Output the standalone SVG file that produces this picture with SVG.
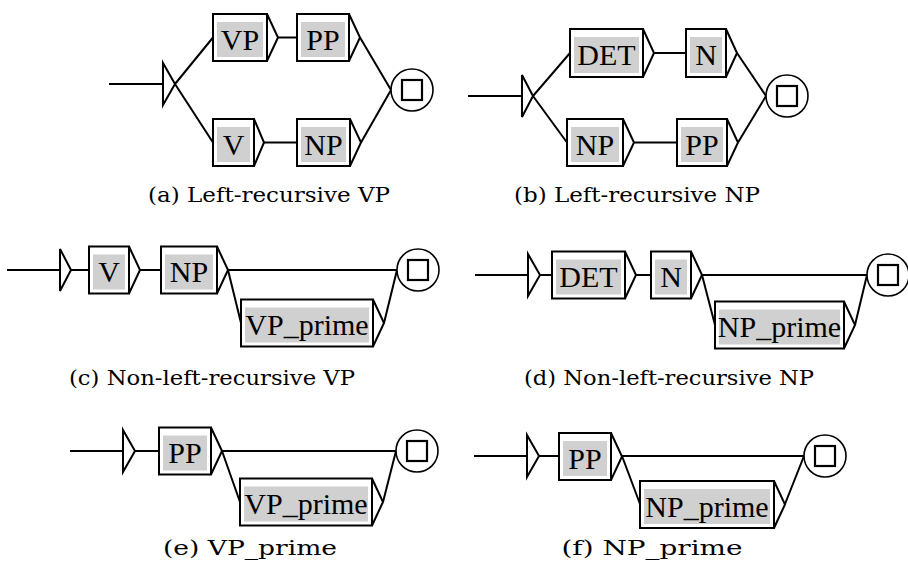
<svg xmlns="http://www.w3.org/2000/svg" width="908" height="573" viewBox="0 0 908 573">
<style>
.bx{fill:#fff;stroke:#000;stroke-width:2}
.gr{fill:#d0d0d0;stroke:none}
.lb{font-family:"Liberation Serif","Times New Roman",serif;font-size:30px;text-anchor:middle;fill:#000}
.tr{fill:none;stroke:#000;stroke-width:2;stroke-linejoin:miter}
.ln{fill:none;stroke:#000;stroke-width:2}
.fc{fill:#fff;stroke:#000;stroke-width:1.6}
.fs{fill:#fff;stroke:#000;stroke-width:2.2}
.cap{font-family:"DejaVu Serif","Liberation Serif",serif;font-size:20px;text-anchor:middle;fill:#000}
</style>
<rect width="908" height="573" fill="#fff"/>

<!-- (a) -->
<g id="a_connectors">
<path class="ln" d="M109 84H163M175 84L213 37.5M175 84L213 142.5M278 37.5H297M264 142.5H297M360 37.5L391 90M361 142.5L391 90"/>
</g>
<g id="a_init"><polygon class="tr" points="163,63 175,84 163,105"/></g>
<g id="a_VP"><rect class="bx" x="213" y="14" width="54" height="47"/><rect class="gr" x="217" y="22" width="46" height="35"/><text class="lb" x="240" y="49.5">VP</text><polyline class="tr" points="267,14 278,37.5 267,61"/></g>
<g id="a_PP"><rect class="bx" x="297" y="14" width="52" height="47"/><rect class="gr" x="301" y="22" width="44" height="35"/><text class="lb" x="323" y="49.5">PP</text><polyline class="tr" points="349,14 360,37.5 349,61"/></g>
<g id="a_V"><rect class="bx" x="213" y="119" width="41" height="47"/><rect class="gr" x="217" y="127" width="33" height="35"/><text class="lb" x="233.5" y="154.5">V</text><polyline class="tr" points="254,119 264,142.5 254,166"/></g>
<g id="a_NP"><rect class="bx" x="297" y="119" width="53" height="47"/><rect class="gr" x="301" y="127" width="45" height="35"/><text class="lb" x="323.5" y="154.5">NP</text><polyline class="tr" points="350,119 361,142.5 350,166"/></g>
<g id="a_final"><circle class="fc" cx="412" cy="90" r="21"/><rect class="fs" x="402" y="80" width="20" height="20"/></g>
<text class="cap" x="269" y="202" textLength="242" lengthAdjust="spacingAndGlyphs">(a)  Left-recursive VP</text>

<!-- (b) -->
<g id="b_connectors">
<path class="ln" d="M468 96H522M533 96L570 53M533 96L567 142.5M654 53H686M634 142.5H677M737 53L766 96M738 142.5L766 96"/>
</g>
<g id="b_init"><polygon class="tr" points="522,75 533,96 522,117"/></g>
<g id="b_DET"><rect class="bx" x="570" y="29" width="73" height="48"/><rect class="gr" x="574" y="37" width="65" height="36"/><text class="lb" x="606.5" y="65">DET</text><polyline class="tr" points="643,29 654,53 643,77"/></g>
<g id="b_N"><rect class="bx" x="686" y="29" width="40" height="48"/><rect class="gr" x="690" y="37" width="32" height="36"/><text class="lb" x="706" y="65">N</text><polyline class="tr" points="726,29 737,53 726,77"/></g>
<g id="b_NP"><rect class="bx" x="567" y="119" width="56" height="47"/><rect class="gr" x="571" y="127" width="48" height="35"/><text class="lb" x="595" y="154.5">NP</text><polyline class="tr" points="623,119 634,142.5 623,166"/></g>
<g id="b_PP"><rect class="bx" x="677" y="119" width="50" height="47"/><rect class="gr" x="681" y="127" width="42" height="35"/><text class="lb" x="702" y="154.5">PP</text><polyline class="tr" points="727,119 738,142.5 727,166"/></g>
<g id="b_final"><circle class="fc" cx="787" cy="96" r="21"/><rect class="fs" x="777" y="86" width="20" height="20"/></g>
<text class="cap" x="637" y="202" textLength="246" lengthAdjust="spacingAndGlyphs">(b)  Left-recursive NP</text>

<!-- (c) -->
<g id="c_connectors">
<path class="ln" d="M7 270H60M71 270H89M140 270H161M228 270H397M228 270L241 323M384 323L397 270"/>
</g>
<g id="c_init"><polygon class="tr" points="60,249 71,270 60,291"/></g>
<g id="c_V"><rect class="bx" x="89" y="246.5" width="40" height="47"/><rect class="gr" x="93" y="254.5" width="32" height="35"/><text class="lb" x="109" y="282">V</text><polyline class="tr" points="129,246.5 140,270 129,293.5"/></g>
<g id="c_NP"><rect class="bx" x="161" y="246.5" width="56" height="47"/><rect class="gr" x="165" y="254.5" width="48" height="35"/><text class="lb" x="189" y="282">NP</text><polyline class="tr" points="217,246.5 228,270 217,293.5"/></g>
<g id="c_VPp"><rect class="bx" x="241" y="299.5" width="132" height="47"/><rect class="gr" x="245" y="307.5" width="124" height="35"/><text class="lb" x="307" y="335">VP_prime</text><polyline class="tr" points="373,299.5 384,323 373,346.5"/></g>
<g id="c_final"><circle class="fc" cx="418" cy="270" r="21"/><rect class="fs" x="408" y="260" width="20" height="20"/></g>
<text class="cap" x="212" y="385" textLength="286" lengthAdjust="spacingAndGlyphs">(c)  Non-left-recursive VP</text>

<!-- (d) -->
<g id="d_connectors">
<path class="ln" d="M475 275H528M540 275H552M636 275H651M702 275H867M702 275L715 325M855 325L867 275"/>
</g>
<g id="d_init"><polygon class="tr" points="528,254 540,275 528,296"/></g>
<g id="d_DET"><rect class="bx" x="552" y="251.5" width="73" height="47"/><rect class="gr" x="556" y="259.5" width="65" height="35"/><text class="lb" x="588.5" y="287">DET</text><polyline class="tr" points="625,251.5 636,275 625,298.5"/></g>
<g id="d_N"><rect class="bx" x="651" y="251.5" width="40" height="47"/><rect class="gr" x="655" y="259.5" width="32" height="35"/><text class="lb" x="671" y="287">N</text><polyline class="tr" points="691,251.5 702,275 691,298.5"/></g>
<g id="d_NPp"><rect class="bx" x="715" y="301.5" width="129" height="47"/><rect class="gr" x="719" y="309.5" width="121" height="35"/><text class="lb" x="779.5" y="337">NP_prime</text><polyline class="tr" points="844,301.5 855,325 844,348.5"/></g>
<g id="d_final"><circle class="fc" cx="888" cy="275" r="21"/><rect class="fs" x="878" y="265" width="20" height="20"/></g>
<text class="cap" x="669" y="385" textLength="290" lengthAdjust="spacingAndGlyphs">(d)  Non-left-recursive NP</text>

<!-- (e) -->
<g id="e_connectors">
<path class="ln" d="M70 451H123M135 451H159M222 451H396M222 451L240 502M383 502L396 451"/>
</g>
<g id="e_init"><polygon class="tr" points="123,430 135,451 123,472"/></g>
<g id="e_PP"><rect class="bx" x="159" y="427.5" width="52" height="47"/><rect class="gr" x="163" y="435.5" width="44" height="35"/><text class="lb" x="185" y="463">PP</text><polyline class="tr" points="211,427.5 222,451 211,474.5"/></g>
<g id="e_VPp"><rect class="bx" x="240" y="478.5" width="132" height="47"/><rect class="gr" x="244" y="486.5" width="124" height="35"/><text class="lb" x="306" y="514">VP_prime</text><polyline class="tr" points="372,478.5 383,502 372,525.5"/></g>
<g id="e_final"><circle class="fc" cx="417" cy="451" r="21"/><rect class="fs" x="407" y="441" width="20" height="20"/></g>
<text class="cap" x="250" y="555" textLength="174" lengthAdjust="spacingAndGlyphs">(e)  VP_prime</text>

<!-- (f) -->
<g id="f_connectors">
<path class="ln" d="M474 456H527M539 456H559M622 456H804M622 456L640 504M785 504L804 456"/>
</g>
<g id="f_init"><polygon class="tr" points="527,435 539,456 527,477"/></g>
<g id="f_PP"><rect class="bx" x="559" y="433" width="52" height="47"/><rect class="gr" x="563" y="441" width="44" height="35"/><text class="lb" x="585" y="468.5">PP</text><polyline class="tr" points="611,433 622,456.5 611,480"/></g>
<g id="f_NPp"><rect class="bx" x="640" y="481" width="134" height="47"/><rect class="gr" x="644" y="489" width="126" height="35"/><text class="lb" x="707" y="516.5">NP_prime</text><polyline class="tr" points="774,481 785,504.5 774,528"/></g>
<g id="f_final"><circle class="fc" cx="825" cy="456" r="21"/><rect class="fs" x="815" y="446" width="20" height="20"/></g>
<text class="cap" x="652" y="555" textLength="181" lengthAdjust="spacingAndGlyphs">(f)  NP_prime</text>
</svg>
